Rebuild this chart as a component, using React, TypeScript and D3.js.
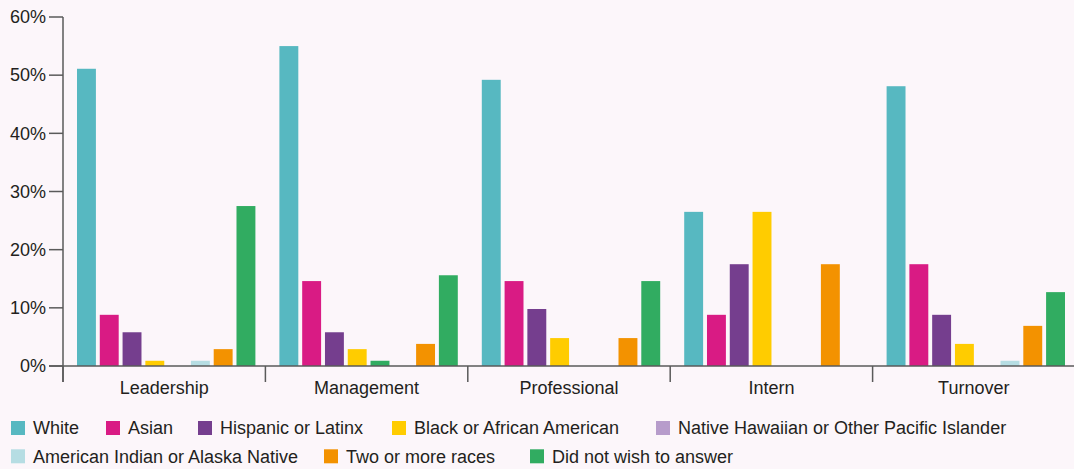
import React from "react";
import * as d3 from "d3";

const categories = ["Leadership", "Management", "Professional", "Intern", "Turnover"];
const seriesNames = [
  "White",
  "Asian",
  "Hispanic or Latinx",
  "Black or African American",
  "Native Hawaiian or Other Pacific Islander",
  "American Indian or Alaska Native",
  "Two or more races",
  "Did not wish to answer",
];
const white = [51.1, 55.0, 49.2, 26.5, 48.1];
const asian = [8.8, 14.6, 14.6, 8.8, 17.5];
const hispanic = [5.8, 5.8, 9.8, 17.5, 8.8];
const black = [0.9, 2.9, 4.8, 26.5, 3.8];
const nativeHawaiian = [0, 0.9, 0, 0, 0];
const americanIndian = [0.9, 0, 0, 0, 0.9];
const twoOrMore = [2.9, 3.8, 4.8, 17.5, 6.9];
const didNotAnswer = [27.5, 15.6, 14.6, 0, 12.7];
const yTicks = [0, 10, 20, 30, 40, 50, 60];

const seriesValues = [white, asian, hispanic, black, nativeHawaiian, americanIndian, twoOrMore, didNotAnswer];
const colors = ["#57b8c1", "#d91b84", "#753e8e", "#ffcc00", "#b79ccb", "#b6dde3", "#f39200", "#31ac61"];
// the source drew the small Management bar in the NHPI slot in green
const colorOverride: Record<string, string> = { "Management|4": "#31ac61" };

// legend layout: [series index, x] per row
const legendLayout = [
  [[0, 11], [1, 106], [2, 198], [3, 392], [4, 656]],
  [[5, 11], [6, 324], [7, 530]],
];

const W = 1074;
const H = 469;
const FONT = "'Liberation Sans', Arial, Helvetica, sans-serif";

export default function App() {
  const x = d3.scaleBand<string>().domain(categories).range([63, 1075]).padding(0);
  const y = d3.scaleLinear().domain([0, 60]).range([366, 17]);
  const inner = d3
    .scaleBand<number>()
    .domain(d3.range(seriesNames.length))
    .range([14, x.bandwidth() - 10])
    .paddingInner(0.17)
    .paddingOuter(0);

  const axisColor = "#5a5a5a";
  const boundaries = categories.map((c) => x(c)!).concat([x.range()[1]]);

  return (
    <div style={{ position: "absolute", left: 0, top: 0 }}>
      <svg width={W} height={H} style={{ display: "block", background: "#fcf6fa", fontFamily: FONT }}>
        {categories.map((c, ci) => (
          <g key={c} transform={`translate(${x(c)},0)`}>
            {seriesValues.map((vals, si) => {
              const v = vals[ci];
              if (!v) return null;
              return (
                <rect
                  key={si}
                  x={inner(si)}
                  y={y(v)}
                  width={inner.bandwidth()}
                  height={y(0) - y(v)}
                  fill={colorOverride[`${c}|${si}`] || colors[si]}
                />
              );
            })}
          </g>
        ))}
        <line x1={63} x2={63} y1={y(60)} y2={382} stroke={axisColor} strokeWidth={1.5} />
        {yTicks.map((t) => (
          <g key={t}>
            <line x1={49} x2={63} y1={y(t)} y2={y(t)} stroke={axisColor} strokeWidth={1.5} />
            <text x={46} y={y(t)} dy="0.35em" textAnchor="end" fontSize={18} fill="#231f20">
              {t}%
            </text>
          </g>
        ))}
        <line x1={49} x2={W} y1={y(0)} y2={y(0)} stroke={axisColor} strokeWidth={1.5} />
        {boundaries.map((b, i) => (
          <line key={i} x1={b} x2={b} y1={y(0)} y2={382} stroke={axisColor} strokeWidth={1.5} />
        ))}
        {categories.map((c) => (
          <text key={c} x={x(c)! + x.bandwidth() / 2} y={394} textAnchor="middle" fontSize={18} fill="#231f20">
            {c}
          </text>
        ))}
        {legendLayout.map((row, r) =>
          row.map(([idx, lx]) => {
            const ly = 421 + r * 28.3;
            return (
              <g key={idx}>
                <rect x={lx} y={ly} width={14} height={14} fill={colors[idx]} />
                <text x={lx + 22} y={ly + 7} dy="0.35em" fontSize={18} fill="#231f20">
                  {seriesNames[idx]}
                </text>
              </g>
            );
          })
        )}
      </svg>
    </div>
  );
}
